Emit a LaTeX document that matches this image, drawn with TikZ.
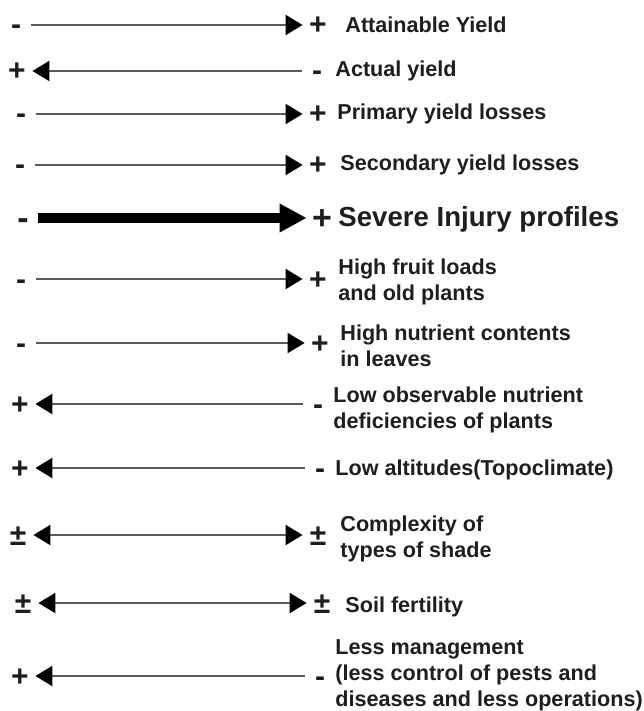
\documentclass[tikz,border=0pt]{standalone}
\usepackage{fontspec}
\setmainfont{Liberation Sans}
\usepackage{tikz}
\usetikzlibrary{arrows.meta}
\definecolor{txtdark}{HTML}{1E1E1E}
\definecolor{linegray}{HTML}{5A5A5A}
\tikzset{
  sgn/.style={font=\bfseries\fontsize{15}{17}\selectfont, text=txtdark, inner sep=0pt, minimum width=15pt, text height=10pt, text depth=0pt},
  bigsgn/.style={sgn, font=\bfseries\fontsize{17}{19}\selectfont, text height=11.5pt},
  lbl/.style={anchor=base west, align=left, inner sep=0pt, text=txtdark, font=\bfseries\fontsize{10.8}{12.8}\selectfont},
  biglbl/.style={lbl, font=\bfseries\fontsize{13.8}{16}\selectfont},
  fl/.style={draw=linegray, line width=1pt, -{Triangle[length=8.5pt,width=10pt,color=black]}},
  bl/.style={draw=linegray, line width=1pt, {Triangle[length=8.5pt,width=10pt,color=black]}-{Triangle[length=8.5pt,width=10pt,color=black]}},
  thk/.style={draw=black, line width=5pt, -{Triangle[length=13.5pt,width=13.5pt]}},
}
\begin{document}
\begin{tikzpicture}[x=0.5pt, y=-0.5pt]
  \useasboundingbox (0,0) rectangle (643,711);
  % attainable yield
  \node[sgn] (l1) at (16,25) {-};
  \node[sgn] (r1) at (318,25) {+};
  \node[lbl] (t1) at (345,33) {Attainable Yield};
  \draw[fl] (l1) -- (r1);
  % actual yield
  \node[sgn] (l2) at (17,71) {+};
  \node[sgn] (r2) at (317,71) {-};
  \node[lbl] (t2) at (335,77) {Actual yield};
  \draw[fl] (r2) -- (l2);
  % yield losses
  \node[sgn] (l3) at (21,114) {-};
  \node[sgn] (r3) at (318,114) {+};
  \node[lbl] (t3) at (337,120) {Primary yield losses};
  \draw[fl] (l3) -- (r3);
  \node[sgn] (l4) at (20,165) {-};
  \node[sgn] (r4) at (318,165) {+};
  \node[lbl] (t4) at (340,170) {Secondary yield losses};
  \draw[fl] (l4) -- (r4);
  % injury profiles
  \node[bigsgn] (l5) at (23,218) {-};
  \node[bigsgn] (r5) at (322,218) {+};
  \node[biglbl] (t5) at (338,227) {Severe Injury profiles};
  \draw[thk] (l5) -- (r5);
  % plant factors
  \node[sgn] (l6) at (21,279) {-};
  \node[sgn] (r6) at (318,279) {+};
  \node[lbl] (t6) at (338,300) {High fruit loads\\and old plants};
  \draw[fl] (l6) -- (r6);
  \node[sgn] (l7) at (21,343) {-};
  \node[sgn] (r7) at (320,343) {+};
  \node[lbl] (t7) at (340,366) {High nutrient contents\\in leaves};
  \draw[fl] (l7) -- (r7);
  \node[sgn] (l8) at (20,404) {+};
  \node[sgn] (r8) at (318,404) {-};
  \node[lbl] (t8) at (333,428) {Low observable nutrient\\deficiencies of plants};
  \draw[fl] (r8) -- (l8);
  % environment
  \node[sgn] (l9) at (20,468) {+};
  \node[sgn] (r9) at (320,468) {-};
  \node[lbl] (t9) at (335,475) {Low altitudes(Topoclimate)};
  \draw[fl] (r9) -- (l9);
  \node[sgn] (l10) at (18,535) {±};
  \node[sgn] (r10) at (318,535) {±};
  \node[lbl] (t10) at (340,557) {Complexity of\\types of shade};
  \draw[bl] (l10) -- (r10);
  \node[sgn] (l11) at (23,603) {±};
  \node[sgn] (r11) at (322,603) {±};
  \node[lbl] (t11) at (345,612) {Soil fertility};
  \draw[bl] (l11) -- (r11);
  % management
  \node[sgn] (l12) at (20,676) {+};
  \node[sgn] (r12) at (320,676) {-};
  \node[lbl] (t12) at (335,706) {Less management\\(less control of pests and\\diseases and less operations)};
  \draw[fl] (r12) -- (l12);
\end{tikzpicture}
\end{document}
